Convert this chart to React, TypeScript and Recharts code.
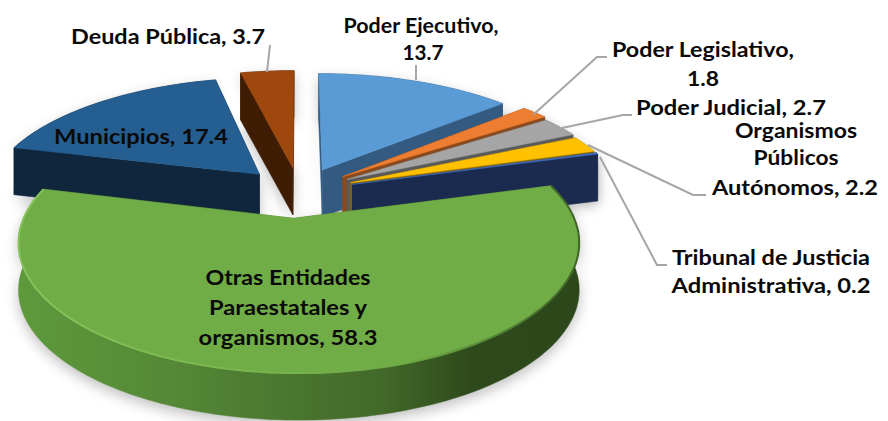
import React from "react";
import { PieChart, Pie } from "recharts";

const names = ["Poder Ejecutivo","Poder Legislativo","Poder Judicial","Organismos Públicos Autónomos","Tribunal de Justicia Administrativa","Otras Entidades Paraestatales y organismos","Municipios","Deuda Pública"];
const values = [13.7,1.8,2.7,2.2,0.2,58.3,17.4,3.7];
const topColors = ["#5B9BD5","#ED7D31","#A5A5A5","#FFC000","#4472C4","#70AD47","#255E91","#9E480E"];
const wallColors = ["#335A80","#8A4A1D","#5A5A5A","#8F6D00","#1A2B4F","#4F7A30","#0F263D","#3F1D05"];
const explode = [55,55,55,55,55,60,55,55];
const radiusScale = [0.98,0.99,0.97,0.96,0.96,0.926,0.97,1];
const shiftX = [0,0,0,0,0,-2,0,-1];
const apexShiftX = [0,0,0,0,0,-5,-3,0];

// Label lines of text and leader-line layout, by slice (not data).
const labelLines = [
  ["Poder Ejecutivo,","13.7"],["Poder Legislativo,","1.8"],["Poder Judicial, 2.7"],
  ["Organismos","Públicos","Autónomos, 2.2"],["Tribunal de Justicia","Administrativa, 0.2"],
  ["Otras Entidades","Paraestatales y","organismos, 58.3"],["Municipios, 17.4"],["Deuda Pública, 3.7"],
];
const labelLayout: {x:number[];y:number[];w:number[];leader?:number[][]}[] = [
  {x:[421,423],y:[33,60],w:[155,41],leader:[[416,80],[416,65]]},
  {x:[703,703],y:[57,86],w:[182,32],leader:[[533,115],[597,57],[607,57]]},
  {x:[731],y:[115],w:[190],leader:[[562,128],[623,115],[632,115]]},
  {x:[796,796,795],y:[138,165,195],w:[122,85,166],leader:[[588,145],[693,195],[706,195]]},
  {x:[771,771],y:[265,293],w:[198,199],leader:[[600,157],[657,265],[667,265]]},
  {x:[288,288,288],y:[285,315,345],w:[165,158,179]},
  {x:[141],y:[144],w:[174]},
  {x:[168],y:[44],w:[194],leader:[[267,72],[270,45]]},
];

const drawOrder = [6,7,0,1,2,3,4,5];
const rows = drawOrder.map((i) => ({ name: names[i], value: values[i], idx: i }));
const total = values.reduce((a,b)=>a+b,0);
const startClockwise = values.slice(0,6).reduce((a,b)=>a+b,0)/total*360;
const START = 90 - startClockwise;

const CX = 300, CY = 191, R = 285, K = 0.196, S = 0.437, DEPTH = 47;
const rad = (d:number)=>d*Math.PI/180;
const proj = (X:number,Y:number,cx:number,cy:number,R0:number)=>{
  const den = 1 + K*Y/R0;
  return [cx + X/den, cy - S*Y/den];
};
function geometry(p:any){
  const { cx, cy, outerRadius, startAngle, endAngle, payload } = p;
  const i = payload.idx;
  const t0 = 90-startAngle, t1 = 90-endAngle, mid=(t0+t1)/2;
  const e = explode[i], r = outerRadius*radiusScale[i];
  const ox = e*Math.sin(rad(mid))+shiftX[i], oy = e*Math.cos(rad(mid));
  const apex = proj(ox+apexShiftX[i],oy,cx,cy,outerRadius);
  const arc:number[][] = [];
  const n = Math.max(2,Math.ceil((t1-t0)/1.5));
  for(let j=0;j<=n;j++){
    const t=t0+(t1-t0)*j/n;
    arc.push(proj(ox+r*Math.sin(rad(t)),oy+r*Math.cos(rad(t)),cx,cy,outerRadius));
  }
  return {i,apex,arc};
}
const path=(pts:number[][],close=true)=>"M"+pts.map(q=>q[0].toFixed(1)+" "+q[1].toFixed(1)).join("L")+(close?"Z":"");
const down=(q:number[])=>[q[0],q[1]+DEPTH];

function Slice(p:any){
  const {i,apex,arc}=geometry(p);
  const first=arc[0], last=arc[arc.length-1];
  const wall=wallColors[i];
  const outerFill = i===5 ? "url(#greenWall)" : wall;
  return (
    <g>
      {i===5 && (
        <defs>
          <linearGradient id="greenWall" gradientUnits="userSpaceOnUse" x1="16" x2="584" y1="0" y2="0">
            <stop offset="0" stopColor="#5E9A3C"/>
            <stop offset="0.3" stopColor="#548636"/>
            <stop offset="0.65" stopColor="#416828"/>
            <stop offset="0.8" stopColor="#2E4A1C"/>
            <stop offset="1" stopColor="#2C471A"/>
          </linearGradient>
          <linearGradient id="greenRim" gradientUnits="userSpaceOnUse" x1="16" x2="584" y1="0" y2="0">
            <stop offset="0" stopColor="#86C45A"/>
            <stop offset="0.4" stopColor="#7AB650"/>
            <stop offset="0.7" stopColor="#6DA845"/>
            <stop offset="0.88" stopColor="#4E7A31"/>
            <stop offset="1" stopColor="#3E6326"/>
          </linearGradient>
        </defs>
      )}
      <path d={path([...arc,...[...arc].reverse().map(down)])} fill={outerFill} stroke={outerFill} strokeWidth={0.5}/>
      <path d={path([apex,first,down(first),down(apex)])} fill={wall} stroke={wall} strokeWidth={0.5}/>
      <path d={path([apex,last,down(last),down(apex)])} fill={wall} stroke={wall} strokeWidth={0.5}/>
      <path d={path([apex,...arc])} fill={topColors[i]} stroke={topColors[i]} strokeWidth={0.5}/>
      {i===5 && <path d={path(arc,false)} fill="none" stroke="url(#greenRim)" strokeWidth={2}/>}
    </g>
  );
}
function ShadowSlice(p:any){
  const {apex,arc}=geometry(p);
  const pts=[apex,...arc,...[...arc].reverse().map(down),down(apex)];
  return <path d={path(pts)} fill="#000" opacity={0.25} transform="translate(0 5)" style={{filter:"blur(7px)"}}/>;
}
function Label(p:any){
  const i=p.payload?.idx ?? p.idx;
  const l=labelLayout[i];
  return (
    <g>
      {l.leader && <polyline points={l.leader.map(q=>q.join(",")).join(" ")} fill="none" stroke="#A6A6A6" strokeWidth={2}/>}
      {labelLines[i].map((t,j)=>(
        <text key={j} x={l.x[j]} y={l.y[j]} textAnchor="middle" fontFamily="Lato" fontWeight={700} fontSize={21} fill="#0A0A0A" textLength={l.w[j]} lengthAdjust="spacingAndGlyphs">{t}</text>
      ))}
    </g>
  );
}

export default function App(){
  return (
    <div style={{position:"absolute",left:0,top:0,width:888,height:421,background:"#fff"}}>
      <PieChart width={888} height={421} margin={{top:0,right:0,bottom:0,left:0}}>
        <Pie data={rows} dataKey="value" nameKey="name" cx={CX} cy={CY} outerRadius={R} startAngle={START} endAngle={START-360} isAnimationActive={false} shape={ShadowSlice} stroke="none" label={false} labelLine={false}/>
        <Pie data={rows} dataKey="value" nameKey="name" cx={CX} cy={CY} outerRadius={R} startAngle={START} endAngle={START-360} isAnimationActive={false} shape={Slice} stroke="none" label={Label} labelLine={false}/>
      </PieChart>
    </div>
  );
}
